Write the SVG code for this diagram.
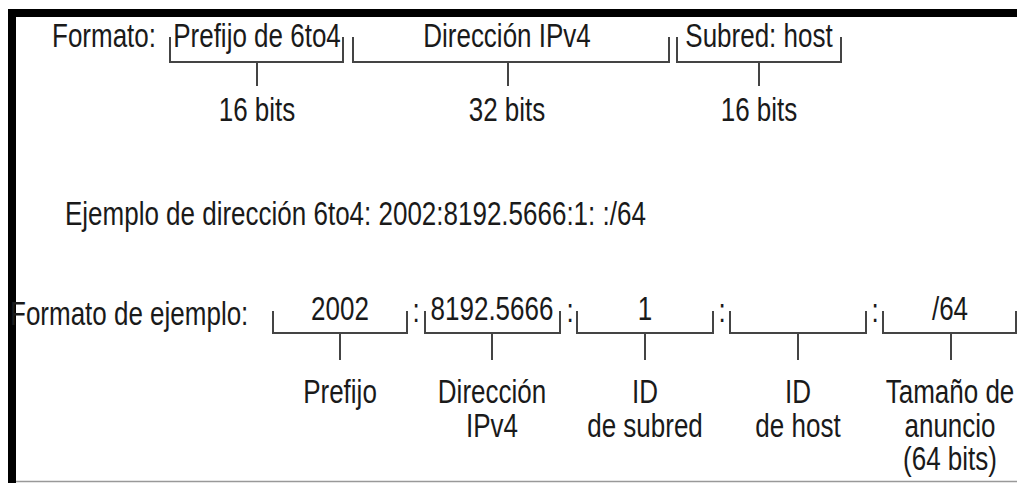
<svg xmlns="http://www.w3.org/2000/svg" width="1017" height="483" viewBox="0 0 1017 483">
<style>
.t{font-family:"Liberation Sans",Arial,Helvetica,sans-serif;font-size:26px;fill:#1a1a1a}
.m{text-anchor:middle}
.b{fill:none;stroke:#444;stroke-width:2}
</style>
<rect x="0" y="0" width="1017" height="483" fill="#fff"/>
<g id="frame">
<rect x="8" y="9" width="1009" height="8" fill="#000"/>
<rect x="8" y="9" width="8" height="474" fill="#000"/>
<line x1="16" y1="481.5" x2="1017" y2="481.5" stroke="#999" stroke-width="1.5"/>
</g>
<g id="connectors">
<path class="b" d="M170,37V62H343V37M257,62V86"/>
<path class="b" d="M353,37V62H669V37M508,62V86"/>
<path class="b" d="M677,37V62H841V37M759,62V86"/>
<path class="b" d="M273,311V333H407V311M340,333V360"/>
<path class="b" d="M425,311V333H560V311M492,333V360"/>
<path class="b" d="M577,311V333H713V311M645,333V360"/>
<path class="b" d="M730,311V333H866V311M798,333V360"/>
<path class="b" d="M883,311V333H1016V311M951,333V360"/>
</g>
<g id="title"><text class="t" transform="translate(52,47) scale(1,1.3)">Formato:</text></g>
<g id="seg-prefix"><text class="t m" transform="translate(257,47) scale(1,1.3)">Prefijo de 6to4</text><text class="t m" transform="translate(257,121) scale(1,1.3)">16 bits</text></g>
<g id="seg-ipv4"><text class="t m" transform="translate(507,47) scale(1,1.3)">Dirección IPv4</text><text class="t m" transform="translate(507,121) scale(1,1.3)">32 bits</text></g>
<g id="seg-subnet"><text class="t m" transform="translate(759,47) scale(1,1.3)">Subred: host</text><text class="t m" transform="translate(759,121) scale(1,1.3)">16 bits</text></g>
<g id="example"><text class="t" transform="translate(65,225) scale(1,1.3)">Ejemplo de dirección 6to4: 2002:8192.5666:1: :/64</text></g>
<g id="example-label"><text class="t" transform="translate(10,325) scale(1,1.3)">Formato de ejemplo:</text></g>
<g id="colons">
<text class="t m" transform="translate(416,322) scale(1,1.3)">:</text>
<text class="t m" transform="translate(570,322) scale(1,1.3)">:</text>
<text class="t m" transform="translate(722,322) scale(1,1.3)">:</text>
<text class="t m" transform="translate(875,322) scale(1,1.3)">:</text>
</g>
<g id="ex-prefix"><text class="t m" transform="translate(340,320) scale(1,1.3)">2002</text><text class="t m" transform="translate(340,403) scale(1,1.3)">Prefijo</text></g>
<g id="ex-ipv4"><text class="t m" transform="translate(492,320) scale(1,1.3)">8192.5666</text><text class="t m" transform="translate(492,403) scale(1,1.3)">Dirección</text><text class="t m" transform="translate(492,437) scale(1,1.3)">IPv4</text></g>
<g id="ex-subnet"><text class="t m" transform="translate(645,320) scale(1,1.3)">1</text><text class="t m" transform="translate(645,403) scale(1,1.3)">ID</text><text class="t m" transform="translate(645,437) scale(1,1.3)">de subred</text></g>
<g id="ex-host"><text class="t m" transform="translate(798,403) scale(1,1.3)">ID</text><text class="t m" transform="translate(798,437) scale(1,1.3)">de host</text></g>
<g id="ex-prefixlen"><text class="t m" transform="translate(950,320) scale(1,1.3)">/64</text><text class="t m" transform="translate(950,403) scale(1,1.3)">Tamaño de</text><text class="t m" transform="translate(950,437) scale(1,1.3)">anuncio</text><text class="t m" transform="translate(950,470) scale(1,1.3)">(64 bits)</text></g>
</svg>
